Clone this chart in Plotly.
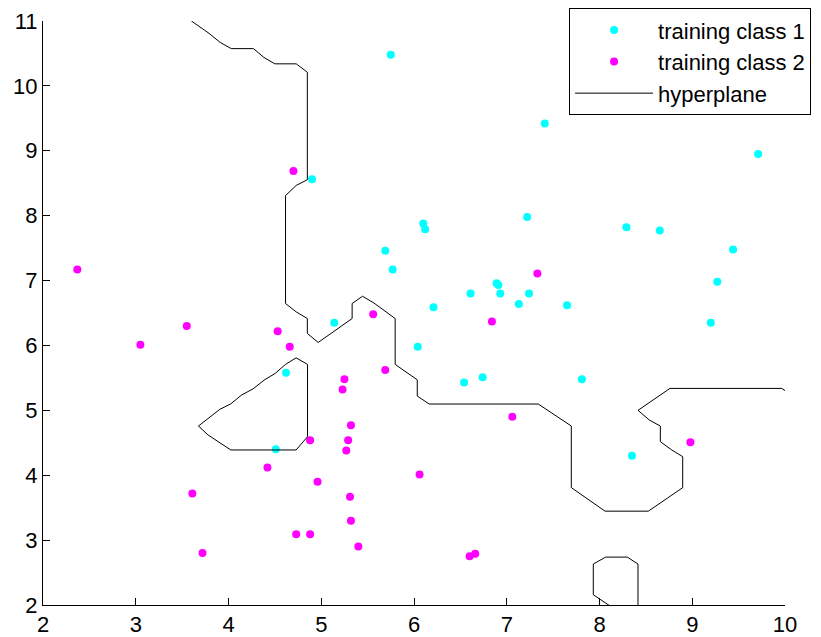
import plotly.graph_objects as go

# Training samples, class 1
class1_x = [4.90, 5.75, 5.69, 5.77, 6.10, 6.12, 7.41, 9.71, 7.22, 8.29, 8.65, 9.44,
            9.27, 6.89, 6.91, 6.93, 6.61, 7.24, 7.13, 7.65, 6.21, 9.20, 6.04, 6.54,
            6.74, 7.81, 8.35, 5.14, 4.62, 4.51]
class1_y = [8.56, 10.48, 7.46, 7.17, 7.88, 7.79, 9.42, 8.95, 7.98, 7.82, 7.77, 7.48,
            6.98, 6.96, 6.93, 6.80, 6.80, 6.80, 6.64, 6.62, 6.59, 6.35, 5.98, 5.43,
            5.51, 5.48, 4.30, 6.35, 5.58, 4.40]

# Training samples, class 2
class2_x = [2.37, 4.70, 7.33, 6.84, 7.06, 8.98, 6.06, 6.60, 6.66, 3.05, 3.55, 4.53,
            4.66, 5.56, 5.69, 5.25, 5.23, 5.32, 5.29, 5.27, 4.88, 4.42, 4.96, 3.61,
            5.31, 5.32, 4.73, 4.88, 5.40, 3.72]
class2_y = [7.17, 8.69, 7.11, 6.37, 4.90, 4.51, 4.01, 2.75, 2.79, 6.01, 6.30, 6.22,
            5.98, 6.48, 5.62, 5.48, 5.32, 4.77, 4.54, 4.38, 4.54, 4.12, 3.90, 3.72,
            3.67, 3.30, 3.09, 3.09, 2.90, 2.80]

# Decision boundary contour pieces (None separates pieces)
boundary_main_x = [3.60, 3.79, 3.91, 4.03, 4.27, 4.38, 4.50, 4.73, 4.85, 4.85, 4.73, 4.615,
                   4.615, 4.73, 4.85, 4.85, 4.967, 5.333, 5.333, 5.445, 5.567, 5.797, 5.797,
                   6.035, 6.035, 6.164, 7.34, 7.696, 7.696, 8.06, 8.527, 8.897, 8.897, 8.779,
                   8.656, 8.656, 8.537, 8.415, 8.76, 9.965, 10.02]
boundary_main_y = [11.0, 10.81, 10.67, 10.574, 10.574, 10.44, 10.34, 10.34, 10.21, 8.554, 8.466, 8.31,
                   6.646, 6.517, 6.415, 6.185, 6.046, 6.415, 6.646, 6.758, 6.655, 6.415, 5.708,
                   5.470, 5.220, 5.097, 5.097, 4.758, 3.809, 3.446, 3.446, 3.809, 4.286, 4.389,
                   4.517, 4.758, 4.851, 5.0, 5.338, 5.338, 5.286]

boundary_island_x = [3.676, 3.78, 3.906, 4.025, 4.14, 4.266, 4.384, 4.503, 4.615, 4.729,
                     4.852, 4.852, 4.729, 4.025, 3.78, 3.676]
boundary_island_y = [4.758, 4.877, 5.015, 5.10, 5.235, 5.332, 5.466, 5.569, 5.708, 5.809,
                     5.708, 4.594, 4.389, 4.389, 4.62, 4.758]

boundary_bottom_x = [8.15, 7.933, 7.933, 8.066, 8.30, 8.415, 8.415]
boundary_bottom_y = [1.95, 2.158, 2.631, 2.738, 2.738, 2.631, 1.95]

hyper_x = boundary_main_x + [None] + boundary_island_x + [None] + boundary_bottom_x
hyper_y = boundary_main_y + [None] + boundary_island_y + [None] + boundary_bottom_y

x_ticks = [2, 3, 4, 5, 6, 7, 8, 9, 10]
y_ticks = [2, 3, 4, 5, 6, 7, 8, 9, 10, 11]

FONT = "Arial, Liberation Sans, Helvetica, sans-serif"

fig = go.Figure()
fig.add_trace(go.Scatter(
    x=class1_x, y=class1_y, mode="markers", name="training class 1",
    legendgroup="c1",
    marker=dict(color="#00FFFF", size=8, line=dict(width=0)),
))
fig.add_trace(go.Scatter(
    x=class2_x, y=class2_y, mode="markers", name="training class 2",
    legendgroup="c2",
    marker=dict(color="#FF00FF", size=8, line=dict(width=0)),
))
fig.add_trace(go.Scatter(
    x=hyper_x, y=hyper_y, mode="lines", name="hyperplane",
    legendgroup="hp",
    line=dict(color="black", width=1),
))

axis_common = dict(
    showgrid=False, zeroline=False, showline=True, linecolor="black", linewidth=1,
    ticks="inside", ticklen=7, tickcolor="black", tickwidth=1, mirror=False,
    automargin=False,
    tickfont=dict(family=FONT, size=22, color="black"),
)

fig.update_layout(
    width=821, height=637,
    margin=dict(l=43, r=36, t=21, b=32, autoexpand=False),
    paper_bgcolor="white", plot_bgcolor="white",
    font=dict(family=FONT, size=22, color="black"),
    xaxis=dict(range=[2, 10], tickvals=x_ticks, **axis_common),
    yaxis=dict(range=[2, 11], tickvals=y_ticks, **axis_common),
    showlegend=True,
    legend=dict(
        x=0.709, y=1.022, xanchor="left", yanchor="top",
        bordercolor="black", borderwidth=1, bgcolor="white",
        font=dict(family=FONT, size=22, color="black"),
        itemwidth=78, tracegroupgap=0,
    ),
)

fig.write_html("out.html")
